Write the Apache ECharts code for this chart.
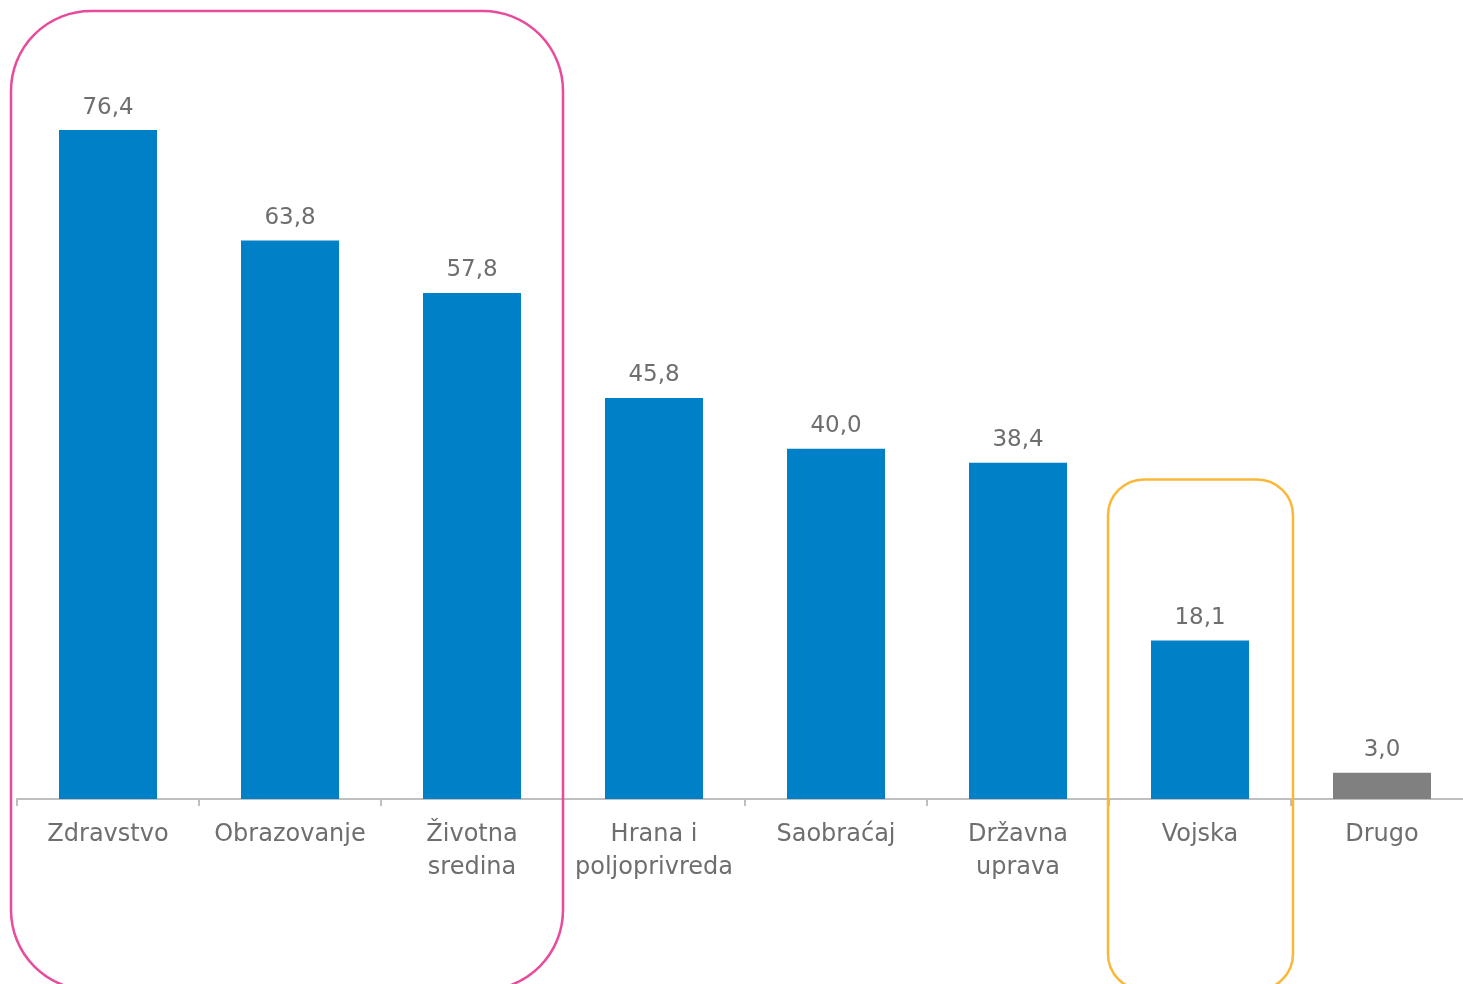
<!DOCTYPE html>
<html>
<head>
<meta charset="utf-8">
<script src="https://cdn.jsdelivr.net/npm/echarts@6/dist/echarts.min.js"></script>
<style>
html,body{margin:0;padding:0;background:#fff;overflow:hidden;width:1463px;height:984px;}
#chart{width:1473px;height:984px;}
</style>
</head>
<body>
<div id="chart"></div>
<script>
const categories = ['Zdravstvo', 'Obrazovanje', 'Životna\nsredina', 'Hrana i\npoljoprivreda', 'Saobraćaj', 'Državna\nuprava', 'Vojska', 'Drugo'];
const values = [76.4, 63.8, 57.8, 45.8, 40.0, 38.4, 18.1, 3.0];
const barColors = ['#0080C6', '#0080C6', '#0080C6', '#0080C6', '#0080C6', '#0080C6', '#0080C6', '#808080'];

const FONT = 'DejaVu Sans';
const chart = echarts.init(document.getElementById('chart'), null, {renderer: 'canvas'});
chart.setOption({
  animation: false,
  backgroundColor: '#fff',
  grid: {left: 17, top: 11, right: 0, bottom: 185, containLabel: false},
  xAxis: {
    type: 'category',
    data: categories,
    axisLine: {lineStyle: {color: '#BFBFBF', width: 2}},
    axisTick: {show: true, length: 7, lineStyle: {color: '#BFBFBF', width: 2}},
    axisLabel: {color: '#6E6E6E', fontFamily: FONT, fontSize: 24, lineHeight: 33, margin: 19, interval: 0}
  },
  yAxis: {type: 'value', min: 0, max: 90, show: false, splitLine: {show: false}},
  series: [{
    type: 'bar',
    barWidth: 98,
    data: values.map((v, i) => ({value: v, itemStyle: {color: barColors[i]}})),
    label: {
      show: true, position: 'top', distance: 11,
      color: '#6E6E6E', fontFamily: FONT, fontSize: 23,
      formatter: p => p.value.toFixed(1).replace('.', ',')
    }
  }]
});

// Decorative rounded highlight boxes, positioned from the axis scale
const c0 = chart.convertToPixel({xAxisIndex: 0}, categories[0]);
const c2 = chart.convertToPixel({xAxisIndex: 0}, categories[2]);
const c6 = chart.convertToPixel({xAxisIndex: 0}, categories[6]);
const yTop1 = chart.convertToPixel({yAxisIndex: 0}, 90);
const yTop2 = chart.convertToPixel({yAxisIndex: 0}, 36.5);
chart.setOption({
  graphic: [
    {type: 'rect', shape: {x: c0 - 97, y: yTop1, width: c2 - c0 + 188, height: 990 - yTop1, r: 80},
     style: {fill: 'none', stroke: '#E94B9C', lineWidth: 2.5}, z: 100},
    {type: 'rect', shape: {x: c6 - 92, y: yTop2, width: 185, height: 990 - yTop2, r: 36},
     style: {fill: 'none', stroke: '#FBB838', lineWidth: 2.5}, z: 100}
  ]
});
</script>
</body>
</html>
